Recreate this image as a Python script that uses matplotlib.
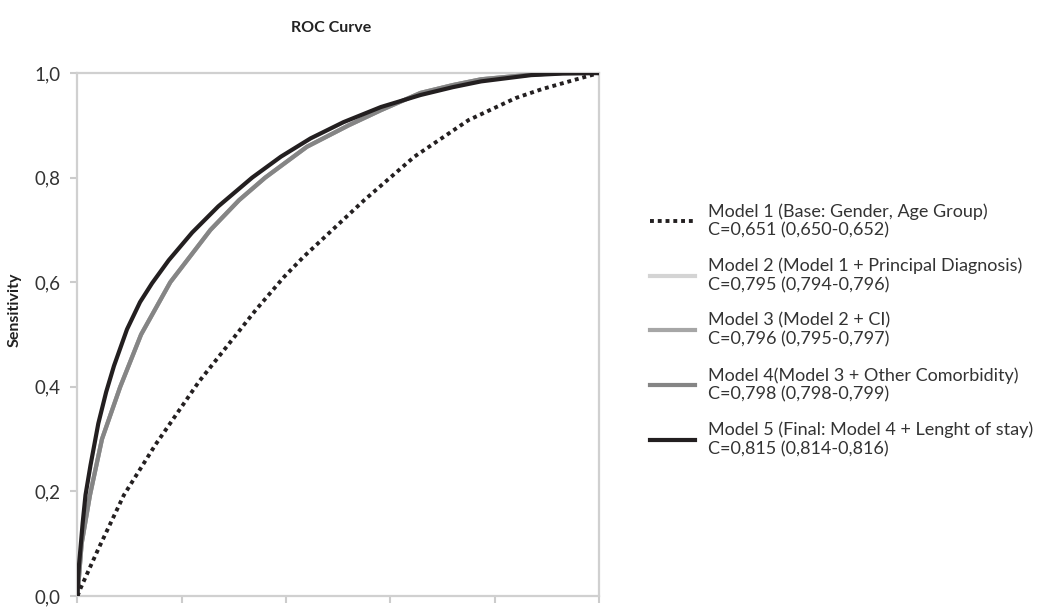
import matplotlib
matplotlib.use("Agg")
import matplotlib.pyplot as plt
from matplotlib.ticker import FuncFormatter

plt.rcParams['font.family'] = ['Lato', 'DejaVu Sans']

# values (1 - specificity, sensitivity)
m1_fpr = [0.0, 0.006, 0.04, 0.089, 0.15, 0.233, 0.342, 0.396, 0.434, 0.55, 0.646, 0.75, 0.84, 0.89, 0.95, 1.0]
m1_tpr = [0.0, 0.015, 0.09, 0.193, 0.29, 0.41, 0.547, 0.61, 0.649, 0.757, 0.84, 0.91, 0.952, 0.969, 0.986, 1.0]

gray_fpr = [0.0, 0.004, 0.008, 0.024, 0.047, 0.082, 0.122, 0.178, 0.255, 0.31, 0.36, 0.44,
            0.52, 0.582, 0.658, 0.72, 0.774, 0.87, 0.93, 1.0]
gray_tpr = [0.0, 0.05, 0.10, 0.193, 0.30, 0.40, 0.50, 0.60, 0.70, 0.757, 0.80, 0.859,
            0.90, 0.929, 0.962, 0.977, 0.988, 0.997, 1.0, 1.0]
m2_fpr, m2_tpr = gray_fpr, gray_tpr
m3_fpr, m3_tpr = gray_fpr, gray_tpr
m4_fpr, m4_tpr = gray_fpr, gray_tpr

m5_fpr = [0.0, 0.001, 0.003, 0.006, 0.01, 0.0154, 0.025, 0.04, 0.055, 0.07, 0.095, 0.12, 0.143, 0.175,
          0.22, 0.27, 0.335, 0.39, 0.447, 0.51, 0.582, 0.658, 0.72, 0.774, 0.87, 0.93, 1.0]
m5_tpr = [0.0, 0.03, 0.06, 0.094, 0.14, 0.193, 0.25, 0.33, 0.39, 0.44, 0.51, 0.562, 0.598, 0.642,
          0.695, 0.745, 0.80, 0.84, 0.875, 0.906, 0.935, 0.958, 0.973, 0.984, 0.996, 0.999, 1.0]

labels = [
    "Model 1 (Base: Gender, Age Group)\nC=0,651 (0,650-0,652)",
    "Model 2 (Model 1 + Principal Diagnosis)\nC=0,795 (0,794-0,796)",
    "Model 3 (Model 2 + CI)\nC=0,796 (0,795-0,797)",
    "Model 4(Model 3 + Other Comorbidity)\nC=0,798 (0,798-0,799)",
    "Model 5 (Final: Model 4 + Lenght of stay)\nC=0,815 (0,814-0,816)",
]
ticks = [0.0, 0.2, 0.4, 0.6, 0.8, 1.0]

fig = plt.figure(figsize=(10.44, 6.10), dpi=100)
ax = fig.add_axes([0.0742, 0.0229, 0.4995, 0.8574])

ax.plot(m2_fpr, m2_tpr, color='#d4d4d4', lw=3, label=labels[1], zorder=2)
ax.plot(m3_fpr, m3_tpr, color='#a6a6a6', lw=3, label=labels[2], zorder=3)
ax.plot(m4_fpr, m4_tpr, color='#858585', lw=3, label=labels[3], zorder=4)
ax.plot(m5_fpr, m5_tpr, color='#231f20', lw=3, label=labels[4], zorder=5)
ax.plot(m1_fpr, m1_tpr, color='#231f20', lw=2.8, ls=(0, (1, 1)), dash_capstyle='butt',
        label=labels[0], zorder=6)

ax.set_xlim(0, 1)
ax.set_ylim(0, 1)
ax.set_xticks(ticks)
ax.set_yticks(ticks)
fmt = FuncFormatter(lambda v, p: f"{v:.1f}".replace('.', ','))
ax.xaxis.set_major_formatter(fmt)
ax.yaxis.set_major_formatter(fmt)
ax.tick_params(length=5, width=1.5, color='#cccccc', labelcolor='#333333', labelsize=13.5, pad=7)
for s in ax.spines.values():
    s.set_color('#d0d0d0')
    s.set_linewidth(1.6)

ax.set_ylabel("Sensitivity", fontweight='bold', fontsize=11.5, color='#222222')
ax.yaxis.set_label_coords(-0.107, 0.547)
fig.text(331 / 1044, 1 - 28 / 610, "ROC Curve", fontweight='bold', fontsize=11.5,
         ha='center', va='center', color='#222222')

handles, labs = ax.get_legend_handles_labels()
order = [4, 0, 1, 2, 3]
ax.legend([handles[i] for i in order], [labs[i] for i in order],
          loc='upper left', bbox_to_anchor=(650 / 1044, 1 - 203 / 610),
          bbox_transform=fig.transFigure, frameon=False, fontsize=13,
          handlelength=2.5, handletextpad=0.72, labelspacing=1.08, borderpad=0,
          borderaxespad=0, labelcolor='#333333')

fig.savefig("out.png", dpi=100)
